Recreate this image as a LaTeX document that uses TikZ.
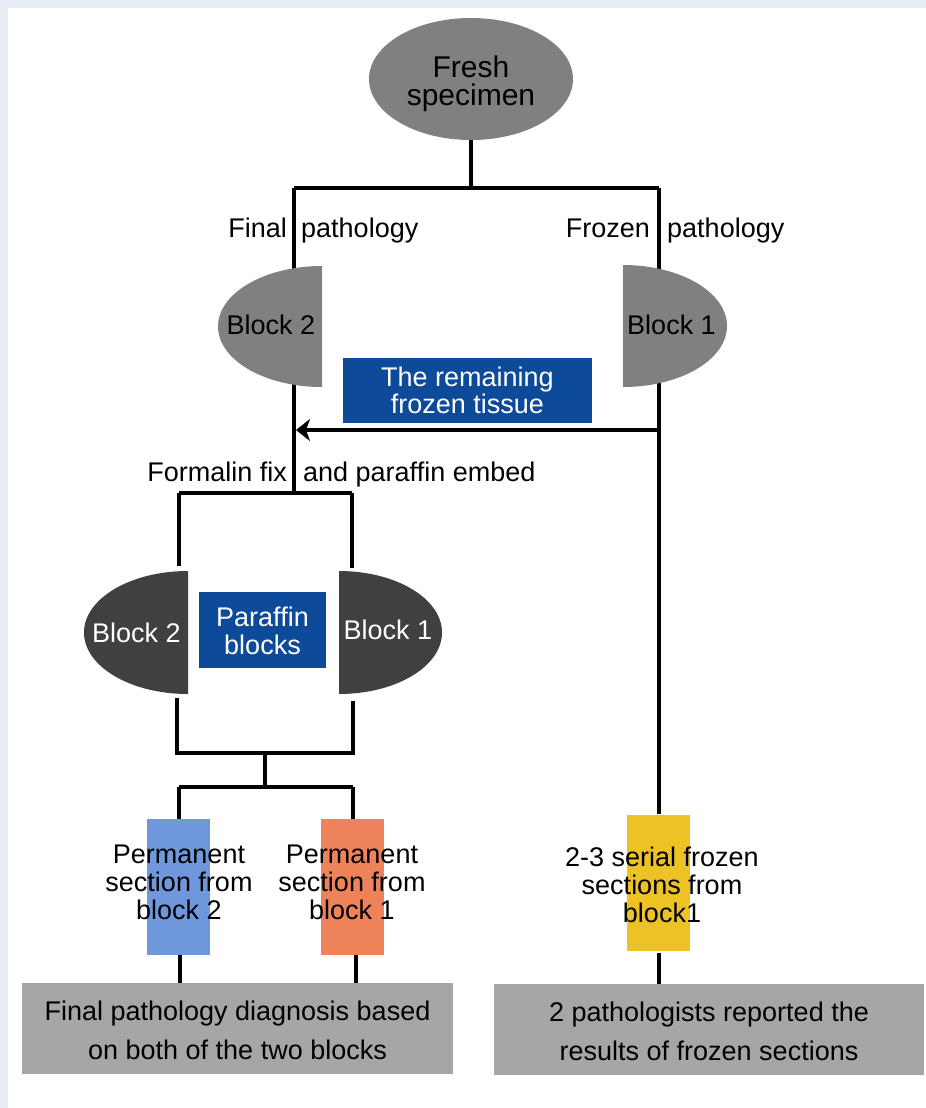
\documentclass[tikz,border=0pt]{standalone}
\usepackage{fontspec}
\setmainfont{Liberation Sans}
\usetikzlibrary{arrows.meta,shapes.geometric}
\definecolor{bgframe}{HTML}{E8ECF4}
\definecolor{midgray}{HTML}{808080}
\definecolor{darkgray}{HTML}{404040}
\definecolor{boxblue}{HTML}{0D4A9A}
\definecolor{lightgraybox}{HTML}{A6A6A6}
\definecolor{permblue}{HTML}{6F97DC}
\definecolor{permorange}{HTML}{EE8258}
\definecolor{frozyellow}{HTML}{ECC224}
\begin{document}
\begin{tikzpicture}[x=1pt,y=-1pt,
  conn/.style={line width=3.3pt},
  txt/.style={inner sep=0pt, align=center, font=\fontsize{27}{28}\selectfont},
  lbl/.style={inner sep=0pt, font=\fontsize{27}{28}\selectfont},
  bluebox/.style={fill=boxblue, text=white, inner sep=0pt, align=center, font=\fontsize{27}{27.5}\selectfont},
  graybox/.style={fill=lightgraybox, inner sep=0pt, align=center, font=\fontsize{27}{39}\selectfont},
  slab/.style={inner sep=0pt, minimum width=63pt, minimum height=136pt}
]
\useasboundingbox (0,0) rectangle (926,1108);
\fill[bgframe] (0,0) rectangle (926,1108);
\fill[white] (8,8) rectangle (926,1108);

% ---------- coordinates ----------
\coordinate (j1) at (471,188);
\coordinate (jL) at (294,188);
\coordinate (jR) at (659,188);
\coordinate (jF) at (294,493);
\coordinate (fL) at (179,493);
\coordinate (fR) at (352,493);
\coordinate (fLe) at (179,566);
\coordinate (fRe) at (352,568);
\coordinate (gLs) at (177,698);
\coordinate (gRs) at (353,701);
\coordinate (gL) at (177,753);
\coordinate (gR) at (353,753);
\coordinate (gM) at (265,753);
\coordinate (hM) at (265,787);
\coordinate (hL) at (179,787);
\coordinate (hR) at (353,787);
\coordinate (aR) at (659,430);
\coordinate (aL) at (296,430);

% ---------- boxes ----------
\node[slab, fill=permblue] (pb2) at (178.5,887) {};
\node[slab, fill=permorange] (pb1) at (352.5,887) {};
\node[graybox, minimum width=431pt, minimum height=91pt] (final) at (237.5,1028.5) {};
\node[graybox, anchor=center] (finaltxt) at (237.5,1030.5) {Final pathology diagnosis based\\on both of the two blocks};
\node[graybox, minimum width=430pt, minimum height=91pt] (report) at (709,1029.5) {};
\node[graybox] (reporttxt) at (709,1031.5) {2 pathologists reported the\\results of frozen sections};

% ---------- fresh specimen ----------
\node[ellipse, fill=midgray, minimum width=204pt, minimum height=122pt, inner sep=0pt] (fresh) at (471,79) {};
\node[inner sep=0pt, align=center, font=\fontsize{30}{28}\selectfont] (freshtxt) at (471,84) {Fresh\\specimen};

% ---------- connectors ----------
\draw[conn] (fresh.south) -- (j1);
\draw[conn] (jL) -- (jR);
\draw[conn] (jL) -- (jF);
\draw[conn] (fL) -- (fR);
\draw[conn] (fL) -- (fLe);
\draw[conn] (fR) -- (fRe);
\draw[conn] (gLs) -- (gL) -- (gR) -- (gRs);
\draw[conn] (gM) -- (hM);
\draw[conn] (hL) -- (hR);
\draw[conn] (hL) -- (pb2.north -| hL);
\draw[conn] (hR) -- (pb1.north -| hR);
\draw[conn] (pb2.south) ++(1.5,0) coordinate (pb2s) -- (pb2s |- final.north);
\draw[conn] (pb1.south) ++(3.5,0) coordinate (pb1s) -- (pb1s |- final.north);
\draw[conn, -{Stealth[length=14pt, width=22pt, inset=4pt]}] (aR) -- (aL);

% frozen branch
\node[slab, fill=frozyellow] (yb) at (658.5,882.5) {};
\draw[conn] (jR) -- (yb.north -| jR);
\draw[conn] (yb.south -| jR) ++(0,2) coordinate (ybs) -- (ybs |- report.north);

% ---------- half-ellipse blocks ----------
\fill[midgray] (322,266) arc[start angle=90, end angle=270, x radius=104pt, y radius=60.5pt] -- cycle;
\fill[midgray] (623,265) arc[start angle=90, end angle=-90, x radius=104pt, y radius=61pt] -- cycle;
\fill[darkgray] (188,571) arc[start angle=90, end angle=270, x radius=104pt, y radius=61.5pt] -- cycle;
\fill[darkgray] (339,571) arc[start angle=90, end angle=-90, x radius=103pt, y radius=61.5pt] -- cycle;

\node[txt] (b2a) at (271,325) {Block 2};
\node[txt] (b1a) at (671.5,325) {Block 1};
\node[txt, text=white] (b2b) at (136.5,633) {Block 2};
\node[txt, text=white] (b1b) at (388,630) {Block 1};

% ---------- blue label boxes ----------
\node[bluebox, minimum width=249pt, minimum height=65pt] (rem) at (467.5,390.5) {The remaining\\frozen tissue};
\node[bluebox, minimum width=127pt, minimum height=76pt] (par) at (262.5,630) {};
\node[bluebox, fill=none] (partxt) at (262.5,631) {Paraffin\\blocks};

% ---------- branch labels ----------
\node[lbl, anchor=base east] (lfin) at (287,237) {Final};
\node[lbl, anchor=base west] (lfinp) at (301,237) {pathology};
\node[lbl, anchor=base east] (lfro) at (650,237) {Frozen};
\node[lbl, anchor=base west] (lfrop) at (667,237) {pathology};
\node[lbl, anchor=base east] (lform) at (287,481) {Formalin fix};
\node[lbl, anchor=base west] (lpar) at (303,481) {and paraffin embed};

% ---------- section texts ----------
\node[txt] (pt2) at (179,882) {Permanent\\section from\\block 2};
\node[txt] (pt1) at (352,882) {Permanent\\section from\\block 1};
\node[txt] (yt) at (662,885) {2-3 serial frozen\\sections from\\block1};
\end{tikzpicture}
\end{document}
